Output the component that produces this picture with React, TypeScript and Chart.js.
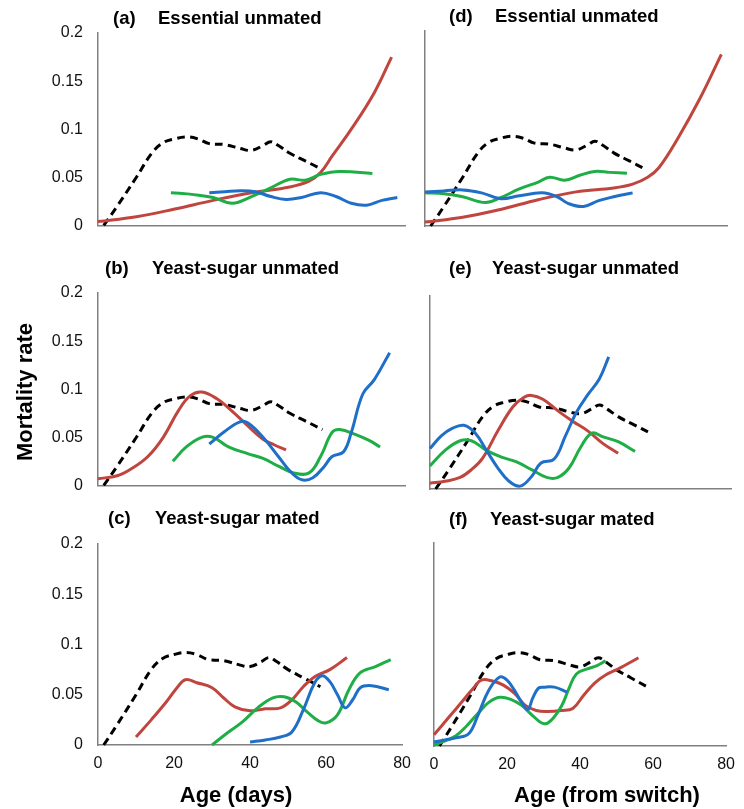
import React, { useEffect, useRef } from "react";
import { Chart, registerables } from "chart.js";
Chart.register(...registerables);

type P = [number, number][];

// ---- axis ticks ----
const X_TICKS = [0, 20, 40, 60, 80];
const Y_TICKS = [0, 0.05, 0.1, 0.15, 0.2];

// ---- reference (dashed) curve, same in every panel ----
const REF_DASHED: P = [[1.5,0],[5,0.02],[10,0.05],[14,0.075],[17,0.086],[20,0.09],[23,0.092],[26,0.09],[29,0.085],[33,0.084],[37,0.08],[40,0.078],[43,0.083],[45,0.087],[47,0.083],[50,0.075],[54,0.067],[58.5,0.058]];

// ---- (a) Essential unmated, age ----
const A_RED: P = [[0,0.004],[10,0.009],[20,0.017],[30,0.026],[40,0.034],[50,0.04],[55,0.046],[58,0.055],[61,0.072],[66,0.1],[72,0.138],[76.5,0.175]];
const A_GREEN: P = [[19,0.034],[25,0.032],[30,0.029],[35,0.023],[40,0.03],[45,0.039],[50,0.048],[54,0.047],[58,0.053],[63,0.056],[71.5,0.054]];
const A_BLUE: P = [[29,0.034],[33,0.035],[37,0.036],[41,0.035],[45,0.03],[49,0.027],[53,0.029],[58,0.034],[62,0.03],[66,0.023],[70,0.021],[74,0.026],[78,0.029]];

// ---- (b) Yeast-sugar unmated, age ----
const B_RED: P = [[0,0.007],[5,0.01],[9,0.018],[13,0.03],[17,0.05],[21,0.078],[24,0.093],[27,0.097],[31,0.09],[35,0.077],[39,0.062],[43,0.048],[46,0.042],[49,0.037]];
const B_GREEN: P = [[19.5,0.025],[23,0.04],[27,0.05],[30,0.05],[34,0.04],[39,0.033],[43,0.028],[47,0.02],[51,0.013],[55,0.013],[58,0.03],[61,0.055],[63,0.058],[67,0.053],[70.5,0.047],[73.5,0.04]];
const B_BLUE: P = [[29,0.043],[33,0.056],[37,0.066],[39,0.065],[43,0.05],[47,0.03],[50,0.015],[53,0.006],[56,0.008],[59,0.02],[61,0.03],[64,0.035],[66,0.055],[69,0.095],[72,0.11],[76,0.138]];

// ---- (c) Yeast-sugar mated, age ----
const C_RED: P = [[10,0.008],[14,0.025],[18,0.043],[21,0.058],[23,0.065],[26,0.062],[30,0.057],[33,0.047],[36,0.038],[40,0.034],[44,0.036],[48,0.037],[51,0.045],[54,0.058],[57,0.068],[61,0.075],[65.5,0.087]];
const C_GREEN: P = [[30,0],[34,0.012],[38,0.023],[42,0.037],[46,0.047],[49,0.048],[52,0.043],[55,0.033],[58,0.024],[60,0.022],[63,0.03],[66,0.055],[69,0.072],[73,0.078],[77,0.085]];
const C_BLUE: P = [[40,0.003],[44,0.005],[48,0.008],[51,0.013],[54,0.035],[57,0.062],[59,0.069],[61,0.063],[63,0.05],[65,0.037],[67,0.045],[69,0.057],[72,0.059],[76.5,0.055]];

// ---- (d) Essential unmated, from switch ----
const D_RED: P = [[0,0.004],[10,0.009],[20,0.017],[30,0.027],[40,0.035],[50,0.039],[55,0.043],[59,0.05],[62,0.06],[67,0.09],[73,0.132],[78.5,0.176]];
const D_GREEN: P = [[0,0.034],[5,0.033],[10,0.03],[16,0.024],[20,0.029],[25,0.038],[30,0.045],[33,0.05],[37,0.047],[41,0.052],[45,0.056],[49,0.055],[53.5,0.054]];
const D_BLUE: P = [[0,0.035],[5,0.036],[10,0.037],[15,0.034],[20,0.028],[25,0.031],[31,0.034],[35,0.03],[38,0.023],[42,0.02],[46,0.026],[50,0.03],[55,0.034]];

// ---- (e) Yeast-sugar unmated, from switch ----
const E_RED: P = [[0,0.006],[4,0.008],[8,0.012],[11,0.02],[14,0.032],[18,0.06],[22,0.085],[25,0.095],[27,0.097],[30,0.093],[34,0.081],[38,0.07],[42,0.06],[46,0.047],[50,0.037]];
const E_GREEN: P = [[0,0.024],[4,0.04],[8,0.05],[11,0.05],[15,0.04],[19,0.033],[23,0.028],[27,0.02],[31,0.012],[34,0.012],[37,0.022],[40,0.043],[43,0.058],[46,0.054],[50,0.049],[54.5,0.039]];
const E_BLUE: P = [[0,0.042],[3,0.055],[6,0.063],[9,0.066],[12,0.058],[15,0.04],[18,0.022],[21,0.008],[24,0.003],[27,0.013],[29.5,0.027],[33,0.031],[36,0.055],[39,0.08],[42,0.098],[45,0.114],[47.5,0.137]];

// ---- (f) Yeast-sugar mated, from switch ----
const F_RED: P = [[0,0.011],[4,0.028],[8,0.045],[11,0.058],[13,0.065],[16,0.064],[19,0.06],[22,0.052],[25,0.04],[28,0.035],[31,0.034],[35,0.035],[38,0.037],[41,0.05],[44,0.062],[47,0.07],[51,0.077],[56,0.087]];
const F_GREEN: P = [[0,0.001],[3,0.005],[6,0.01],[9,0.02],[12,0.032],[15,0.043],[18,0.048],[21,0.046],[24,0.04],[27,0.03],[30,0.022],[32,0.025],[35,0.04],[37,0.057],[39,0.071],[42,0.076],[44.5,0.079],[47,0.084]];
const F_BLUE: P = [[0,0.004],[3,0.006],[6,0.008],[9.5,0.012],[12,0.03],[15,0.055],[18,0.068],[20,0.065],[22,0.055],[24,0.043],[25.7,0.036],[27,0.047],[28.6,0.057],[30,0.058],[33,0.058],[36.5,0.053]];

const RED = "#c0453f";
const GREEN = "#1fae45";
const BLUE = "#1f6fc8";
const AXIS = "#808080";
const FONT = "'Liberation Sans', Arial, Helvetica, sans-serif";
const TITLE_FONT = `bold 18.5px ${FONT}`;
const AXIS_TITLE_FONT = `bold 22px ${FONT}`;

type TextItem = { text: string; x: number; y: number; font: string; align?: CanvasTextAlign; baseline?: CanvasTextBaseline; rot?: number };
type Panel = {
  key: string;
  red: P; green: P; blue: P;
  showY: boolean; showX: boolean;
  canvas: { x: number; y: number; w: number; h: number };
  area: { L: number; T: number; R: number; B: number };
  texts: TextItem[];
};

const PANELS: Panel[] = [
  { key: "a", red: A_RED, green: A_GREEN, blue: A_BLUE, showY: true, showX: false,
    canvas: { x: 0, y: 0, w: 420, h: 250 }, area: { L: 98, T: 33, R: 405, B: 226 },
    texts: [ { text: "(a)", x: 113, y: 24, font: TITLE_FONT }, { text: "Essential unmated", x: 158, y: 24, font: TITLE_FONT } ] },
  { key: "b", red: B_RED, green: B_GREEN, blue: B_BLUE, showY: true, showX: false,
    canvas: { x: 0, y: 250, w: 420, h: 260 }, area: { L: 98, T: 293, R: 405, B: 487 },
    texts: [ { text: "(b)", x: 105, y: 274, font: TITLE_FONT }, { text: "Yeast-sugar unmated", x: 152, y: 274, font: TITLE_FONT },
      { text: "Mortality rate", x: 26, y: 392, font: AXIS_TITLE_FONT, align: "center", baseline: "middle", rot: -Math.PI / 2 } ] },
  { key: "c", red: C_RED, green: C_GREEN, blue: C_BLUE, showY: true, showX: true,
    canvas: { x: 0, y: 510, w: 420, h: 299 }, area: { L: 98, T: 544, R: 405, B: 745 },
    texts: [ { text: "(c)", x: 108, y: 524, font: TITLE_FONT }, { text: "Yeast-sugar mated", x: 155, y: 524, font: TITLE_FONT },
      { text: "Age (days)", x: 236, y: 802, font: AXIS_TITLE_FONT, align: "center" } ] },
  { key: "d", red: D_RED, green: D_GREEN, blue: D_BLUE, showY: false, showX: false,
    canvas: { x: 372, y: 0, w: 372, h: 250 }, area: { L: 425, T: 31, R: 727, B: 226 },
    texts: [ { text: "(d)", x: 449, y: 22, font: TITLE_FONT }, { text: "Essential unmated", x: 495, y: 22, font: TITLE_FONT } ] },
  { key: "e", red: E_RED, green: E_GREEN, blue: E_BLUE, showY: false, showX: false,
    canvas: { x: 372, y: 250, w: 372, h: 260 }, area: { L: 430, T: 296, R: 731, B: 489 },
    texts: [ { text: "(e)", x: 449, y: 274, font: TITLE_FONT }, { text: "Yeast-sugar unmated", x: 492, y: 274, font: TITLE_FONT } ] },
  { key: "f", red: F_RED, green: F_GREEN, blue: F_BLUE, showY: false, showX: true,
    canvas: { x: 372, y: 510, w: 372, h: 299 }, area: { L: 434, T: 543, R: 730, B: 746 },
    texts: [ { text: "(f)", x: 449, y: 525, font: TITLE_FONT }, { text: "Yeast-sugar mated", x: 490, y: 525, font: TITLE_FONT },
      { text: "Age (from switch)", x: 607, y: 802, font: AXIS_TITLE_FONT, align: "center" } ] },
];

function line(data: P, color: string, dashed = false) {
  return {
    data,
    borderColor: color,
    backgroundColor: color,
    borderWidth: 3,
    borderDash: dashed ? [8, 5] : [],
    pointRadius: 0,
    pointHoverRadius: 0,
    tension: 0.4,
    fill: false,
    clip: false as any,
  };
}

function PanelChart({ panel }: { panel: Panel }) {
  const ref = useRef<HTMLCanvasElement>(null);
  const c = panel.canvas;
  useEffect(() => {
    const a = panel.area;
    const textPlugin = {
      id: "freeText" + panel.key,
      afterDraw(chart: any) {
        const ctx = chart.ctx as CanvasRenderingContext2D;
        for (const t of panel.texts) {
          ctx.save();
          ctx.font = t.font;
          ctx.fillStyle = "#000";
          ctx.textAlign = t.align || "left";
          ctx.textBaseline = t.baseline || "alphabetic";
          ctx.translate(t.x - c.x, t.y - c.y);
          if (t.rot) ctx.rotate(t.rot);
          ctx.fillText(t.text, 0, 0);
          ctx.restore();
        }
      },
    };
    const chart = new Chart(ref.current as HTMLCanvasElement, {
      type: "line",
      data: {
        datasets: [
          line(panel.blue, BLUE),
          line(panel.green, GREEN),
          line(panel.red, RED),
          line(REF_DASHED, "#000", true),
        ] as any,
      },
      options: {
        animation: false,
        responsive: false,
        events: [],
        layout: { padding: { left: 0, top: a.T - c.y, right: c.x + c.w - a.R, bottom: 0 } },
        plugins: { legend: { display: false }, tooltip: { enabled: false }, title: { display: false } },
        scales: {
          x: {
            type: "linear",
            min: 0,
            max: 80,
            afterBuildTicks: (s: any) => { s.ticks = X_TICKS.map((v) => ({ value: v })); },
            afterFit: (s: any) => { s.height = c.y + c.h - a.B; },
            grid: { display: false, drawTicks: false },
            border: { display: true, color: AXIS, width: 1.5 },
            ticks: { display: panel.showX, padding: 9, color: "#111", font: { size: 16, family: FONT }, maxRotation: 0, autoSkip: false },
          },
          y: {
            type: "linear",
            min: 0,
            max: 0.2,
            afterBuildTicks: (s: any) => { s.ticks = Y_TICKS.map((v) => ({ value: v })); },
            afterFit: (s: any) => { s.width = a.L - c.x; },
            grid: { display: false, drawTicks: false },
            border: { display: true, color: AXIS, width: 1.5 },
            ticks: { display: panel.showY, padding: 15, color: "#111", font: { size: 16, family: FONT }, callback: (v: any) => String(Math.round(Number(v) * 100) / 100) },
          },
        },
      } as any,
      plugins: [textPlugin],
    });
    return () => chart.destroy();
  }, []);
  return (
    <canvas
      ref={ref}
      width={c.w}
      height={c.h}
      style={{ position: "absolute", left: c.x, top: c.y, width: c.w, height: c.h }}
    />
  );
}

export default function App() {
  return (
    <div style={{ position: "absolute", left: 0, top: 0, width: 744, height: 809, background: "#fff", overflow: "hidden" }}>
      {PANELS.map((p) => (
        <PanelChart key={p.key} panel={p} />
      ))}
    </div>
  );
}
